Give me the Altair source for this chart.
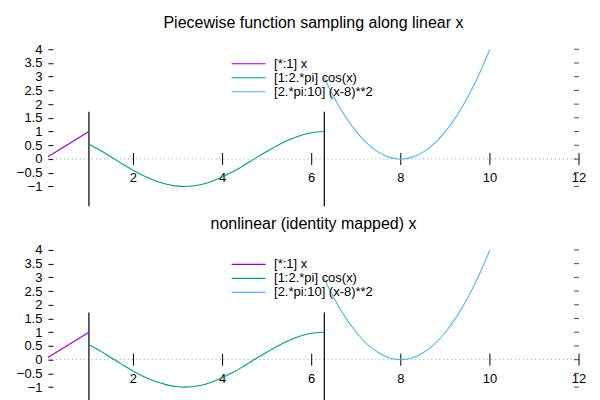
import altair as alt
import pandas as pd

# ---- data ----
series_names = ["[*:1] x", "[1:2.*pi] cos(x)", "[2.*pi:10] (x-8)**2"]
series_colors = ["#9400d3", "#009e73", "#56b4e9"]

lin_x = [0.08, 1.0]
lin_y = [0.08, 1.0]

cos_x = [1.0, 1.25, 1.5, 1.75, 2.0, 2.25, 2.5, 2.75, 3.0, 3.14, 3.5, 3.75, 4.0, 4.25, 4.5, 4.75, 5.0, 5.25, 5.5, 5.75, 6.0, 6.28]
cos_y = [0.54, 0.32, 0.07, -0.18, -0.42, -0.63, -0.80, -0.92, -0.99, -1.0, -0.94, -0.82, -0.65, -0.45, -0.21, 0.04, 0.28, 0.51, 0.71, 0.86, 0.96, 1.0]

par_x = [6.28, 6.5, 6.75, 7.0, 7.25, 7.5, 7.75, 8.0, 8.25, 8.5, 8.75, 9.0, 9.25, 9.5, 9.75, 10.0]
par_y = [2.96, 2.25, 1.56, 1.0, 0.56, 0.25, 0.06, 0.0, 0.06, 0.25, 0.56, 1.0, 1.56, 2.25, 3.06, 4.0]

x_ticks = [2, 4, 6, 8, 10, 12]
y_ticks = [-1, -0.5, 0, 0.5, 1, 1.5, 2, 2.5, 3, 3.5, 4]
y_tick_labels = ["\u22121", "\u22120.5", "0", "0.5", "1", "1.5", "2", "2.5", "3", "3.5", "4"]
break_x = [1.0, 6.283]
break_y = [-1.72, 1.72]

titles = ["Piecewise function sampling along linear x", "nonlinear (identity mapped) x"]

X_DOMAIN = [0.08, 12]
Y_DOMAIN = [-1.75, 4]
W, H = 532, 158

curves = pd.concat([
    pd.DataFrame({"x": lin_x, "y": lin_y, "s": series_names[0]}),
    pd.DataFrame({"x": cos_x, "y": cos_y, "s": series_names[1]}),
    pd.DataFrame({"x": par_x, "y": par_y, "s": series_names[2]}),
], ignore_index=True)

breaks = pd.DataFrame({"x": break_x, "y": break_y[0], "y2": break_y[1]})
ticks = pd.DataFrame({"x": x_ticks, "y": -0.22, "y2": 0.22, "lab": [str(t) for t in x_ticks]})
zero = pd.DataFrame({"x": [X_DOMAIN[0]], "x2": [X_DOMAIN[1]], "y": [0]})
rticks = pd.DataFrame({"x": X_DOMAIN[1], "y": y_ticks})
ylab_expr = "{" + ",".join(f"'{v}': '{l}'" for v, l in zip(y_ticks, y_tick_labels)) + "}[datum.value]"

xs = alt.Scale(domain=X_DOMAIN, nice=False, zero=False)
ys = alt.Scale(domain=Y_DOMAIN, nice=False, zero=False)
yaxis = alt.Axis(values=y_ticks, orient="left", offset=-5, tickSize=5, domain=False, grid=False,
                 labelPadding=6, title=None, labelExpr=ylab_expr)


def X(f="x"):
    return alt.X(f + ":Q", scale=xs, axis=None)


def Y(f="y"):
    return alt.Y(f + ":Q", scale=ys, axis=yaxis)


def panel(title):
    lines = alt.Chart(curves).mark_line(strokeWidth=1.1, interpolate="monotone", clip=True).encode(
        x=X(), y=Y(),
        color=alt.Color("s:N", scale=alt.Scale(domain=series_names, range=series_colors),
                        sort=series_names,
                        legend=alt.Legend(title=None, orient="none", legendX=194.5, legendY=8,
                                          symbolType="M-3.4,0H3.4", symbolSize=100, symbolStrokeWidth=1.1,
                                          labelFontSize=13, labelFont="Liberation Sans", labelColor="black",
                                          labelOffset=19, rowPadding=0, padding=0)),
    )
    rt = alt.Chart(rticks).mark_tick(orient="horizontal", size=5, thickness=1, color="black", xOffset=-2.5).encode(
        x=X(), y=Y())
    zl = alt.Chart(zero).mark_rule(color="#999999", strokeDash=[1, 3], strokeWidth=1).encode(
        x=X(), x2="x2:Q", y=Y())
    br = alt.Chart(breaks).mark_rule(color="black", strokeWidth=1.2).encode(
        x=X(), y=Y(), y2="y2:Q")
    tk = alt.Chart(ticks).mark_rule(color="black", strokeWidth=1).encode(
        x=X(), y=Y(), y2="y2:Q")
    tl = alt.Chart(ticks).mark_text(font="Liberation Sans", fontSize=13, baseline="top", dy=7, color="black").encode(
        x=X(), y=Y(), text="lab:N")
    return alt.layer(zl, br, tk, tl, rt, lines).properties(
        width=W, height=H,
        title=alt.TitleParams(title, fontSize=16, font="Liberation Sans", fontWeight="normal",
                              color="black", offset=12, anchor="middle"))


chart = alt.vconcat(panel(titles[0]), panel(titles[1]), spacing=9).resolve_scale(
    color="independent"
).resolve_legend(color="independent").properties(
    padding={"left": 8, "top": 7, "right": 5, "bottom": 5}
).configure_view(stroke=None).configure_axis(
    labelFont="Liberation Sans", labelFontSize=13, labelColor="black", tickColor="black", tickWidth=1
)

chart.save("out.html", embed_options={"renderer": "svg", "actions": False})
